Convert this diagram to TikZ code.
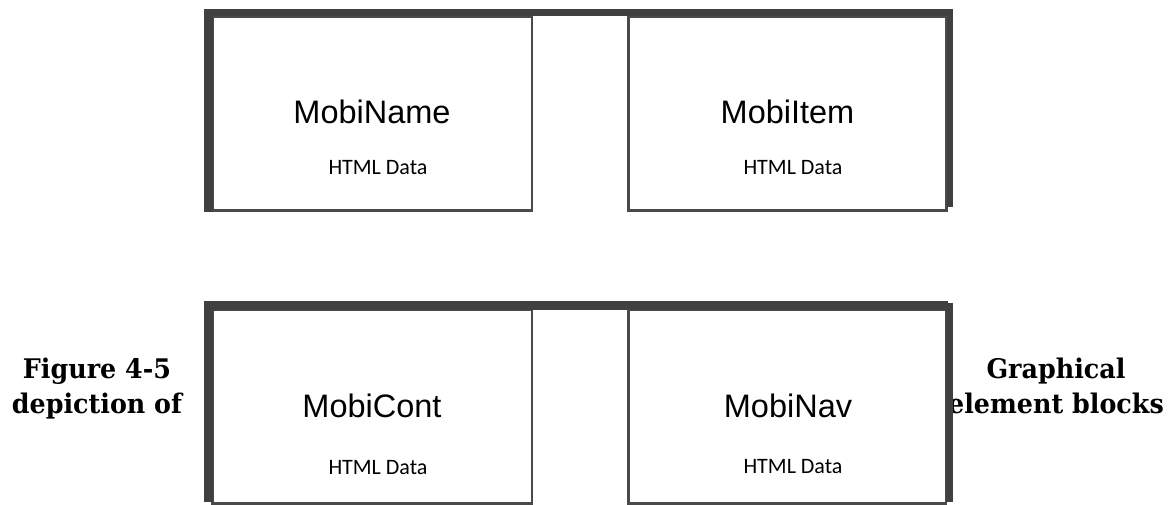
\documentclass[tikz,border=0pt]{standalone}
\usepackage{fontspec}
\setmainfont{Liberation Sans}
\newfontfamily\labelfont{Carlito}
\newfontfamily\capfont[FakeStretch=0.94]{DejaVu Serif}
\definecolor{barcol}{HTML}{404040}
\definecolor{edgecol}{HTML}{4A4A4A}
\tikzset{
  bar/.style={fill=barcol, draw=none},
  blockbox/.style={draw=edgecol, line width=2.4pt, fill=white},
  titletext/.style={anchor=base, font=\fontsize{32.5}{36}\selectfont, inner sep=0pt},
  datatext/.style={anchor=base, font=\labelfont\fontsize{22}{24}\selectfont, inner sep=0pt},
  captext/.style={anchor=base, font=\capfont\bfseries\fontsize{27}{30}\selectfont, inner sep=0pt},
}
\begin{document}
\begin{tikzpicture}[x=1pt, y=-1pt]
\useasboundingbox (0,0) rectangle (1176,505);
\fill[white] (0,0) rectangle (1176,505);

% caption split around the lower row
\node[captext] (capA) at (97,378.3) {Figure 4-5};
\node[captext] (capB) at (97,413.3) {depiction of};
\node[captext] (capC) at (1056,378) {Graphical};
\node[captext] (capD) at (1056,413.3) {element blocks};

% upper row
\draw[blockbox] (212.5,16.5) rectangle (531.8,210.5);
\draw[blockbox] (628.5,16.5) rectangle (946.5,210.5);
\fill[bar] (204,9.5) rectangle (953,16.5);
\fill[bar] (204,9.5) rectangle (212.5,212);
\fill[bar] (946.5,9.5) rectangle (953,207);

\node[titletext] (nameT) at (372,124) {MobiName};
\node[datatext] (nameD) at (378,174.5) {HTML Data};
\node[titletext] (itemT) at (787.5,124) {MobiItem};
\node[datatext] (itemD) at (793,174.5) {HTML Data};

% lower row
\draw[blockbox] (212.5,309.5) rectangle (531.8,503.3);
\draw[blockbox] (628.5,309.5) rectangle (946,503.3);
\fill[bar] (204,301) rectangle (948,309.5);
\fill[bar] (204,301) rectangle (212.5,502);
\fill[bar] (946,303) rectangle (952.7,501.7);

\node[titletext] (contT) at (372,417.3) {MobiCont};
\node[datatext] (contD) at (378,474) {HTML Data};
\node[titletext] (navT) at (788,417.3) {MobiNav};
\node[datatext] (navD) at (793,473.5) {HTML Data};
\end{tikzpicture}
\end{document}
